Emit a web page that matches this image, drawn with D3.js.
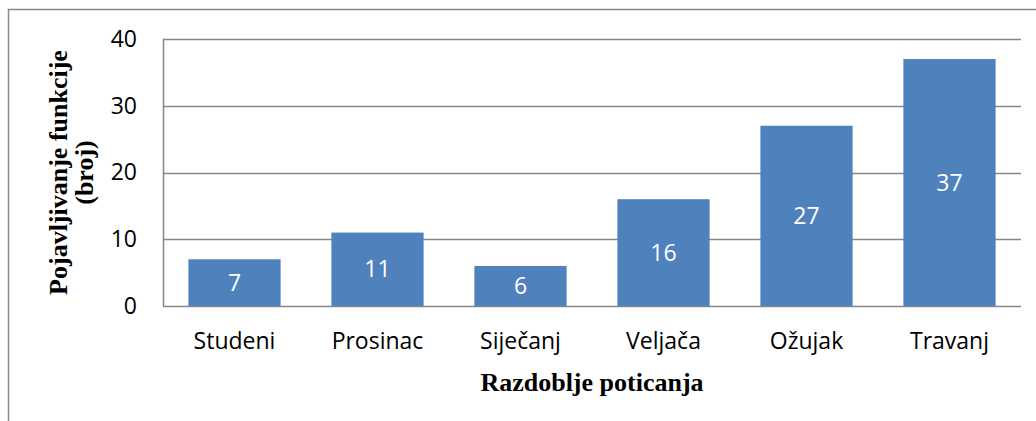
<!DOCTYPE html>
<html>
<head>
<meta charset="utf-8">
<script src="https://cdn.jsdelivr.net/npm/d3@7"></script>
<style>
  html, body { margin: 0; padding: 0; background: #fff; }
  svg { display: block; }
</style>
</head>
<body>
<div id="chart"></div>
<script>
// ── Data ─────────────────────────────────────────────────────
const MONTHS = ['Studeni', 'Prosinac', 'Siječanj', 'Veljača', 'Ožujak', 'Travanj'];
const COUNTS = [7, 11, 6, 16, 27, 37];
const Y_TICKS = [0, 10, 20, 30, 40];

const X_TITLE = 'Razdoblje poticanja';
const Y_TITLE = ['Pojavljivanje funkcije', '(broj)'];

// ── Layout ───────────────────────────────────────────────────
const width = 1036, height = 421;
const margin = { top: 39, right: 15, bottom: 115, left: 163 };
const innerW = width - margin.left - margin.right;
const innerH = height - margin.top - margin.bottom;

const BAR_COLOR  = '#4f81bd';
const GRID_COLOR = '#878787';
const SANS  = '"Open Sans", Lato, sans-serif';
const SERIF = '"Liberation Serif", "DejaVu Serif", serif';
const SANS_SIZE = 23;

const svg = d3.select('#chart')
  .append('svg')
  .attr('width', width)
  .attr('height', height);

// outer chart frame (runs past the right and bottom edges)
svg.append('rect')
  .attr('x', 8.5).attr('y', 9.5)
  .attr('width', 1040).attr('height', 430)
  .attr('fill', 'none')
  .attr('stroke', GRID_COLOR)
  .attr('stroke-width', 1.5);

const g = svg.append('g')
  .attr('transform', `translate(${margin.left},${margin.top})`);

const x = d3.scaleBand()
  .domain(MONTHS)
  .range([0, innerW])
  .paddingInner(0.355)
  .paddingOuter(0.1775);

const y = d3.scaleLinear()
  .domain([0, 40])
  .range([innerH, 0]);

// ── Gridlines ────────────────────────────────────────────────
g.append('g')
  .selectAll('line')
  .data(Y_TICKS)
  .join('line')
  .attr('x1', 0).attr('x2', innerW)
  .attr('y1', d => Math.round(y(d)) + 0.5)
  .attr('y2', d => Math.round(y(d)) + 0.5)
  .attr('stroke', GRID_COLOR)
  .attr('stroke-width', 1.5);

// vertical axis line
g.append('line')
  .attr('x1', 0.5).attr('x2', 0.5)
  .attr('y1', 0).attr('y2', innerH)
  .attr('stroke', GRID_COLOR)
  .attr('stroke-width', 1.5);

// ── Y axis labels ────────────────────────────────────────────
const yAxis = g.append('g')
  .call(d3.axisLeft(y).tickValues(Y_TICKS).tickSize(0).tickPadding(26));
yAxis.select('.domain').remove();
yAxis.selectAll('text')
  .attr('font-family', SANS)
  .attr('font-size', SANS_SIZE)
  .attr('fill', '#000');

// ── X axis labels ────────────────────────────────────────────
const xAxis = g.append('g')
  .attr('transform', `translate(0,${innerH})`)
  .call(d3.axisBottom(x).tickSize(0));
xAxis.select('.domain').remove();
xAxis.selectAll('text')
  .attr('y', 35)
  .attr('dy', '0.35em')
  .attr('font-family', SANS)
  .attr('font-size', SANS_SIZE)
  .attr('fill', '#000');

// ── Bars ─────────────────────────────────────────────────────
const data = MONTHS.map((m, i) => ({ month: m, value: COUNTS[i] }));

g.append('g')
  .selectAll('rect')
  .data(data)
  .join('rect')
  .attr('x', d => x(d.month))
  .attr('y', d => y(d.value))
  .attr('width', x.bandwidth())
  .attr('height', d => innerH - y(d.value))
  .attr('fill', BAR_COLOR);

g.append('g')
  .selectAll('text')
  .data(data)
  .join('text')
  .attr('x', d => x(d.month) + x.bandwidth() / 2)
  .attr('y', d => (y(d.value) + innerH) / 2)
  .attr('dy', '0.35em')
  .attr('text-anchor', 'middle')
  .attr('font-family', SANS)
  .attr('font-size', SANS_SIZE)
  .attr('fill', '#fff')
  .text(d => d.value);

// ── Axis titles ──────────────────────────────────────────────
svg.append('text')
  .attr('x', margin.left + innerW / 2)
  .attr('y', 382)
  .attr('dy', '0.35em')
  .attr('text-anchor', 'middle')
  .attr('font-family', SERIF)
  .attr('font-weight', 'bold')
  .attr('font-size', 26)
  .text(X_TITLE);

const yTitle = svg.append('text')
  .attr('transform', `translate(58,${margin.top + innerH / 2}) rotate(-90)`)
  .attr('text-anchor', 'middle')
  .attr('font-family', SERIF)
  .attr('font-weight', 'bold')
  .attr('font-size', 26);

yTitle.selectAll('tspan')
  .data(Y_TITLE)
  .join('tspan')
  .attr('x', 0)
  .attr('dy', (d, i) => i === 0 ? '0.35em' : 26)
  .text(d => d);
</script>
</body>
</html>
